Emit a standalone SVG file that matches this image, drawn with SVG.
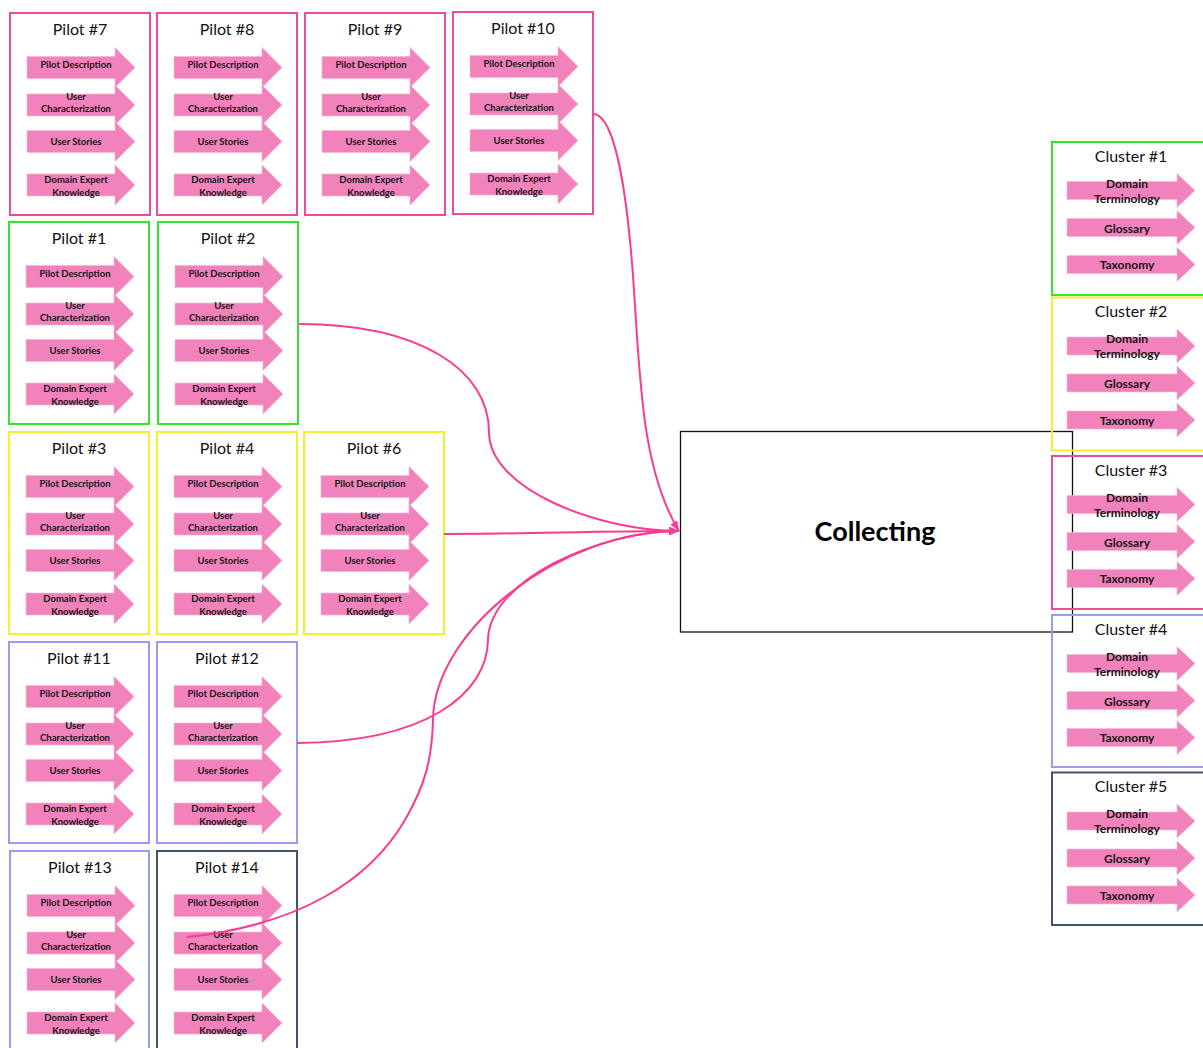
<svg xmlns="http://www.w3.org/2000/svg" xmlns:xlink="http://www.w3.org/1999/xlink" width="1203" height="1048" viewBox="0 0 1203 1048">
<defs>
  <marker id="head" markerUnits="userSpaceOnUse" markerWidth="10" markerHeight="8" refX="10" refY="4" orient="auto">
    <path d="M0,0 L10,4 L0,8 Z" fill="#fb3b8f"/>
  </marker>
  <!-- four block arrows inside every pilot card -->
  <g id="pilot-arrows">
    <path class="arrow" d="M17,43.5H105V34.5L125,54.5L105,74.5V65.5H17Z"/>
    <path class="arrow" d="M17,81H105V72L125,92L105,112V103H17Z"/>
    <path class="arrow" d="M17,117.5H105V108.5L125,128.5L105,148.5V139.5H17Z"/>
    <path class="arrow" d="M17,161H105V152L125,172L105,192V183H17Z"/>
  </g>
  <!-- three block arrows inside every cluster card -->
  <g id="cluster-arrows">
    <path class="arrow" d="M15,39.5H125V31.5L143,48.5L125,65.5V57.5H15Z"/>
    <path class="arrow" d="M15,76.5H125V68.5L143,85.5L125,102.5V94.5H15Z"/>
    <path class="arrow" d="M15,113.5H125V105.5L143,122.5L125,139.5V131.5H15Z"/>
  </g>
  <style>
    .frame{fill:none;stroke-width:2}
    .pk{stroke:#ee4b9c}
    .gr{stroke:#33e533}
    .ye{stroke:#f3ef2c}
    .bl{stroke:#9b9bf2}
    .dk{stroke:#44506c}
    .arrow{fill:#f282bb;stroke:#f7b6d6;stroke-width:0.6}
    .title{font-family:Lato,"Liberation Sans",sans-serif;font-size:16px;text-anchor:middle;fill:#111}
    .lbl{font-family:Lato,"Liberation Sans",sans-serif;font-size:9.5px;font-weight:700;text-anchor:middle;fill:#141414}
    .clbl{font-family:Lato,"Liberation Sans",sans-serif;font-size:12px;font-weight:700;text-anchor:middle;fill:#141414}
    .big{font-family:Lato,"Liberation Sans",sans-serif;font-size:27px;font-weight:700;text-anchor:middle;fill:#000}
    .conn{fill:none;stroke:#fb3b8f;stroke-width:2}
  </style>
</defs>

<rect width="1203" height="1048" fill="#fff"/>

<!-- pilot cards -->
<g id="pilot-7" transform="translate(10,13)">
  <rect class="frame pk" width="140" height="202"/>
  <text class="title" x="70" y="22">Pilot #7</text>
  <use href="#pilot-arrows"/>
  <text class="lbl" x="66" y="55.3">Pilot Description</text>
  <text class="lbl" x="66" y="87">User</text>
  <text class="lbl" x="66" y="98.6">Characterization</text>
  <text class="lbl" x="66" y="132">User Stories</text>
  <text class="lbl" x="66" y="170.3">Domain Expert</text>
  <text class="lbl" x="66" y="183">Knowledge</text>
</g>
<g id="pilot-8" transform="translate(157,13)">
  <rect class="frame pk" width="140" height="202"/>
  <text class="title" x="70" y="22">Pilot #8</text>
  <use href="#pilot-arrows"/>
  <text class="lbl" x="66" y="55.3">Pilot Description</text>
  <text class="lbl" x="66" y="87">User</text>
  <text class="lbl" x="66" y="98.6">Characterization</text>
  <text class="lbl" x="66" y="132">User Stories</text>
  <text class="lbl" x="66" y="170.3">Domain Expert</text>
  <text class="lbl" x="66" y="183">Knowledge</text>
</g>
<g id="pilot-9" transform="translate(305,13)">
  <rect class="frame pk" width="140" height="202"/>
  <text class="title" x="70" y="22">Pilot #9</text>
  <use href="#pilot-arrows"/>
  <text class="lbl" x="66" y="55.3">Pilot Description</text>
  <text class="lbl" x="66" y="87">User</text>
  <text class="lbl" x="66" y="98.6">Characterization</text>
  <text class="lbl" x="66" y="132">User Stories</text>
  <text class="lbl" x="66" y="170.3">Domain Expert</text>
  <text class="lbl" x="66" y="183">Knowledge</text>
</g>
<g id="pilot-10" transform="translate(453,12)">
  <rect class="frame pk" width="140" height="202"/>
  <text class="title" x="70" y="22">Pilot #10</text>
  <use href="#pilot-arrows"/>
  <text class="lbl" x="66" y="55.3">Pilot Description</text>
  <text class="lbl" x="66" y="87">User</text>
  <text class="lbl" x="66" y="98.6">Characterization</text>
  <text class="lbl" x="66" y="132">User Stories</text>
  <text class="lbl" x="66" y="170.3">Domain Expert</text>
  <text class="lbl" x="66" y="183">Knowledge</text>
</g>
<g id="pilot-1" transform="translate(9,222)">
  <rect class="frame gr" width="140" height="202"/>
  <text class="title" x="70" y="22">Pilot #1</text>
  <use href="#pilot-arrows"/>
  <text class="lbl" x="66" y="55.3">Pilot Description</text>
  <text class="lbl" x="66" y="87">User</text>
  <text class="lbl" x="66" y="98.6">Characterization</text>
  <text class="lbl" x="66" y="132">User Stories</text>
  <text class="lbl" x="66" y="170.3">Domain Expert</text>
  <text class="lbl" x="66" y="183">Knowledge</text>
</g>
<g id="pilot-2" transform="translate(158,222)">
  <rect class="frame gr" width="140" height="202"/>
  <text class="title" x="70" y="22">Pilot #2</text>
  <use href="#pilot-arrows"/>
  <text class="lbl" x="66" y="55.3">Pilot Description</text>
  <text class="lbl" x="66" y="87">User</text>
  <text class="lbl" x="66" y="98.6">Characterization</text>
  <text class="lbl" x="66" y="132">User Stories</text>
  <text class="lbl" x="66" y="170.3">Domain Expert</text>
  <text class="lbl" x="66" y="183">Knowledge</text>
</g>
<g id="pilot-3" transform="translate(9,432)">
  <rect class="frame ye" width="140" height="202"/>
  <text class="title" x="70" y="22">Pilot #3</text>
  <use href="#pilot-arrows"/>
  <text class="lbl" x="66" y="55.3">Pilot Description</text>
  <text class="lbl" x="66" y="87">User</text>
  <text class="lbl" x="66" y="98.6">Characterization</text>
  <text class="lbl" x="66" y="132">User Stories</text>
  <text class="lbl" x="66" y="170.3">Domain Expert</text>
  <text class="lbl" x="66" y="183">Knowledge</text>
</g>
<g id="pilot-4" transform="translate(157,432)">
  <rect class="frame ye" width="140" height="202"/>
  <text class="title" x="70" y="22">Pilot #4</text>
  <use href="#pilot-arrows"/>
  <text class="lbl" x="66" y="55.3">Pilot Description</text>
  <text class="lbl" x="66" y="87">User</text>
  <text class="lbl" x="66" y="98.6">Characterization</text>
  <text class="lbl" x="66" y="132">User Stories</text>
  <text class="lbl" x="66" y="170.3">Domain Expert</text>
  <text class="lbl" x="66" y="183">Knowledge</text>
</g>
<g id="pilot-6" transform="translate(304,432)">
  <rect class="frame ye" width="140" height="202"/>
  <text class="title" x="70" y="22">Pilot #6</text>
  <use href="#pilot-arrows"/>
  <text class="lbl" x="66" y="55.3">Pilot Description</text>
  <text class="lbl" x="66" y="87">User</text>
  <text class="lbl" x="66" y="98.6">Characterization</text>
  <text class="lbl" x="66" y="132">User Stories</text>
  <text class="lbl" x="66" y="170.3">Domain Expert</text>
  <text class="lbl" x="66" y="183">Knowledge</text>
</g>
<g id="pilot-11" transform="translate(9,642)">
  <rect class="frame bl" width="140" height="201"/>
  <text class="title" x="70" y="22">Pilot #11</text>
  <use href="#pilot-arrows"/>
  <text class="lbl" x="66" y="55.3">Pilot Description</text>
  <text class="lbl" x="66" y="87">User</text>
  <text class="lbl" x="66" y="98.6">Characterization</text>
  <text class="lbl" x="66" y="132">User Stories</text>
  <text class="lbl" x="66" y="170.3">Domain Expert</text>
  <text class="lbl" x="66" y="183">Knowledge</text>
</g>
<g id="pilot-12" transform="translate(157,642)">
  <rect class="frame bl" width="140" height="201"/>
  <text class="title" x="70" y="22">Pilot #12</text>
  <use href="#pilot-arrows"/>
  <text class="lbl" x="66" y="55.3">Pilot Description</text>
  <text class="lbl" x="66" y="87">User</text>
  <text class="lbl" x="66" y="98.6">Characterization</text>
  <text class="lbl" x="66" y="132">User Stories</text>
  <text class="lbl" x="66" y="170.3">Domain Expert</text>
  <text class="lbl" x="66" y="183">Knowledge</text>
</g>
<g id="pilot-13" transform="translate(10,851)">
  <rect class="frame bl" width="139" height="202"/>
  <text class="title" x="70" y="22">Pilot #13</text>
  <use href="#pilot-arrows"/>
  <text class="lbl" x="66" y="55.3">Pilot Description</text>
  <text class="lbl" x="66" y="87">User</text>
  <text class="lbl" x="66" y="98.6">Characterization</text>
  <text class="lbl" x="66" y="132">User Stories</text>
  <text class="lbl" x="66" y="170.3">Domain Expert</text>
  <text class="lbl" x="66" y="183">Knowledge</text>
</g>
<g id="pilot-14" transform="translate(157,851)">
  <rect class="frame dk" width="140" height="202"/>
  <text class="title" x="70" y="22">Pilot #14</text>
  <use href="#pilot-arrows"/>
  <text class="lbl" x="66" y="55.3">Pilot Description</text>
  <text class="lbl" x="66" y="87">User</text>
  <text class="lbl" x="66" y="98.6">Characterization</text>
  <text class="lbl" x="66" y="132">User Stories</text>
  <text class="lbl" x="66" y="170.3">Domain Expert</text>
  <text class="lbl" x="66" y="183">Knowledge</text>
</g>

<!-- central collecting step (outline only, so cluster arrows sit on top of its right edge) -->
<g id="collecting">
  <rect x="680.5" y="431.5" width="392" height="200.5" fill="none" stroke="#111" stroke-width="1.3"/>
  <text class="big" x="875" y="541">Collecting</text>
</g>

<!-- cluster cards, running off the right edge -->
<g id="cluster-1" transform="translate(1052,142)">
  <rect class="frame gr" width="160" height="153"/>
  <text class="title" x="79" y="19.5">Cluster #1</text>
  <use href="#cluster-arrows"/>
  <text class="clbl" x="75" y="45.5">Domain</text>
  <text class="clbl" x="75" y="60.5">Terminology</text>
  <text class="clbl" x="75" y="90.5">Glossary</text>
  <text class="clbl" x="75" y="127.3">Taxonomy</text>
</g>
<g id="cluster-2" transform="translate(1052,297.5)">
  <rect class="frame ye" width="160" height="153"/>
  <text class="title" x="79" y="19.5">Cluster #2</text>
  <use href="#cluster-arrows"/>
  <text class="clbl" x="75" y="45.5">Domain</text>
  <text class="clbl" x="75" y="60.5">Terminology</text>
  <text class="clbl" x="75" y="90.5">Glossary</text>
  <text class="clbl" x="75" y="127.3">Taxonomy</text>
</g>
<g id="cluster-3" transform="translate(1052,456)">
  <rect class="frame pk" width="160" height="153"/>
  <text class="title" x="79" y="19.5">Cluster #3</text>
  <use href="#cluster-arrows"/>
  <text class="clbl" x="75" y="45.5">Domain</text>
  <text class="clbl" x="75" y="60.5">Terminology</text>
  <text class="clbl" x="75" y="90.5">Glossary</text>
  <text class="clbl" x="75" y="127.3">Taxonomy</text>
</g>
<g id="cluster-4" transform="translate(1052,615)">
  <rect class="frame bl" width="160" height="152"/>
  <text class="title" x="79" y="19.5">Cluster #4</text>
  <use href="#cluster-arrows"/>
  <text class="clbl" x="75" y="45.5">Domain</text>
  <text class="clbl" x="75" y="60.5">Terminology</text>
  <text class="clbl" x="75" y="90.5">Glossary</text>
  <text class="clbl" x="75" y="127.3">Taxonomy</text>
</g>
<g id="cluster-5" transform="translate(1052,772.5)">
  <rect class="frame dk" width="160" height="152.5"/>
  <text class="title" x="79" y="19.5">Cluster #5</text>
  <use href="#cluster-arrows"/>
  <text class="clbl" x="75" y="45.5">Domain</text>
  <text class="clbl" x="75" y="60.5">Terminology</text>
  <text class="clbl" x="75" y="90.5">Glossary</text>
  <text class="clbl" x="75" y="127.3">Taxonomy</text>
</g>

<!-- connectors from pilots into Collecting -->
<g id="connectors">
  <path class="conn" marker-end="url(#head)" d="M593,114 C616,114 628,200 634,290 C640,380 642,470 679,531"/>
  <path class="conn" marker-end="url(#head)" d="M299,324 C420,324 489,370 489,432 C489,490 600,531 679,531"/>
  <path class="conn" marker-end="url(#head)" d="M444,534 C520,534 600,531 679,531"/>
  <path class="conn" marker-end="url(#head)" d="M297,743 C425,742 487,695 488,640 C489,580 600,531 679,531"/>
  <path class="conn" marker-end="url(#head)" d="M187,937 C300,925 370,880 405,820 C425,785 432,760 433,720 C434,630 560,531 679,531"/>
</g>
</svg>
